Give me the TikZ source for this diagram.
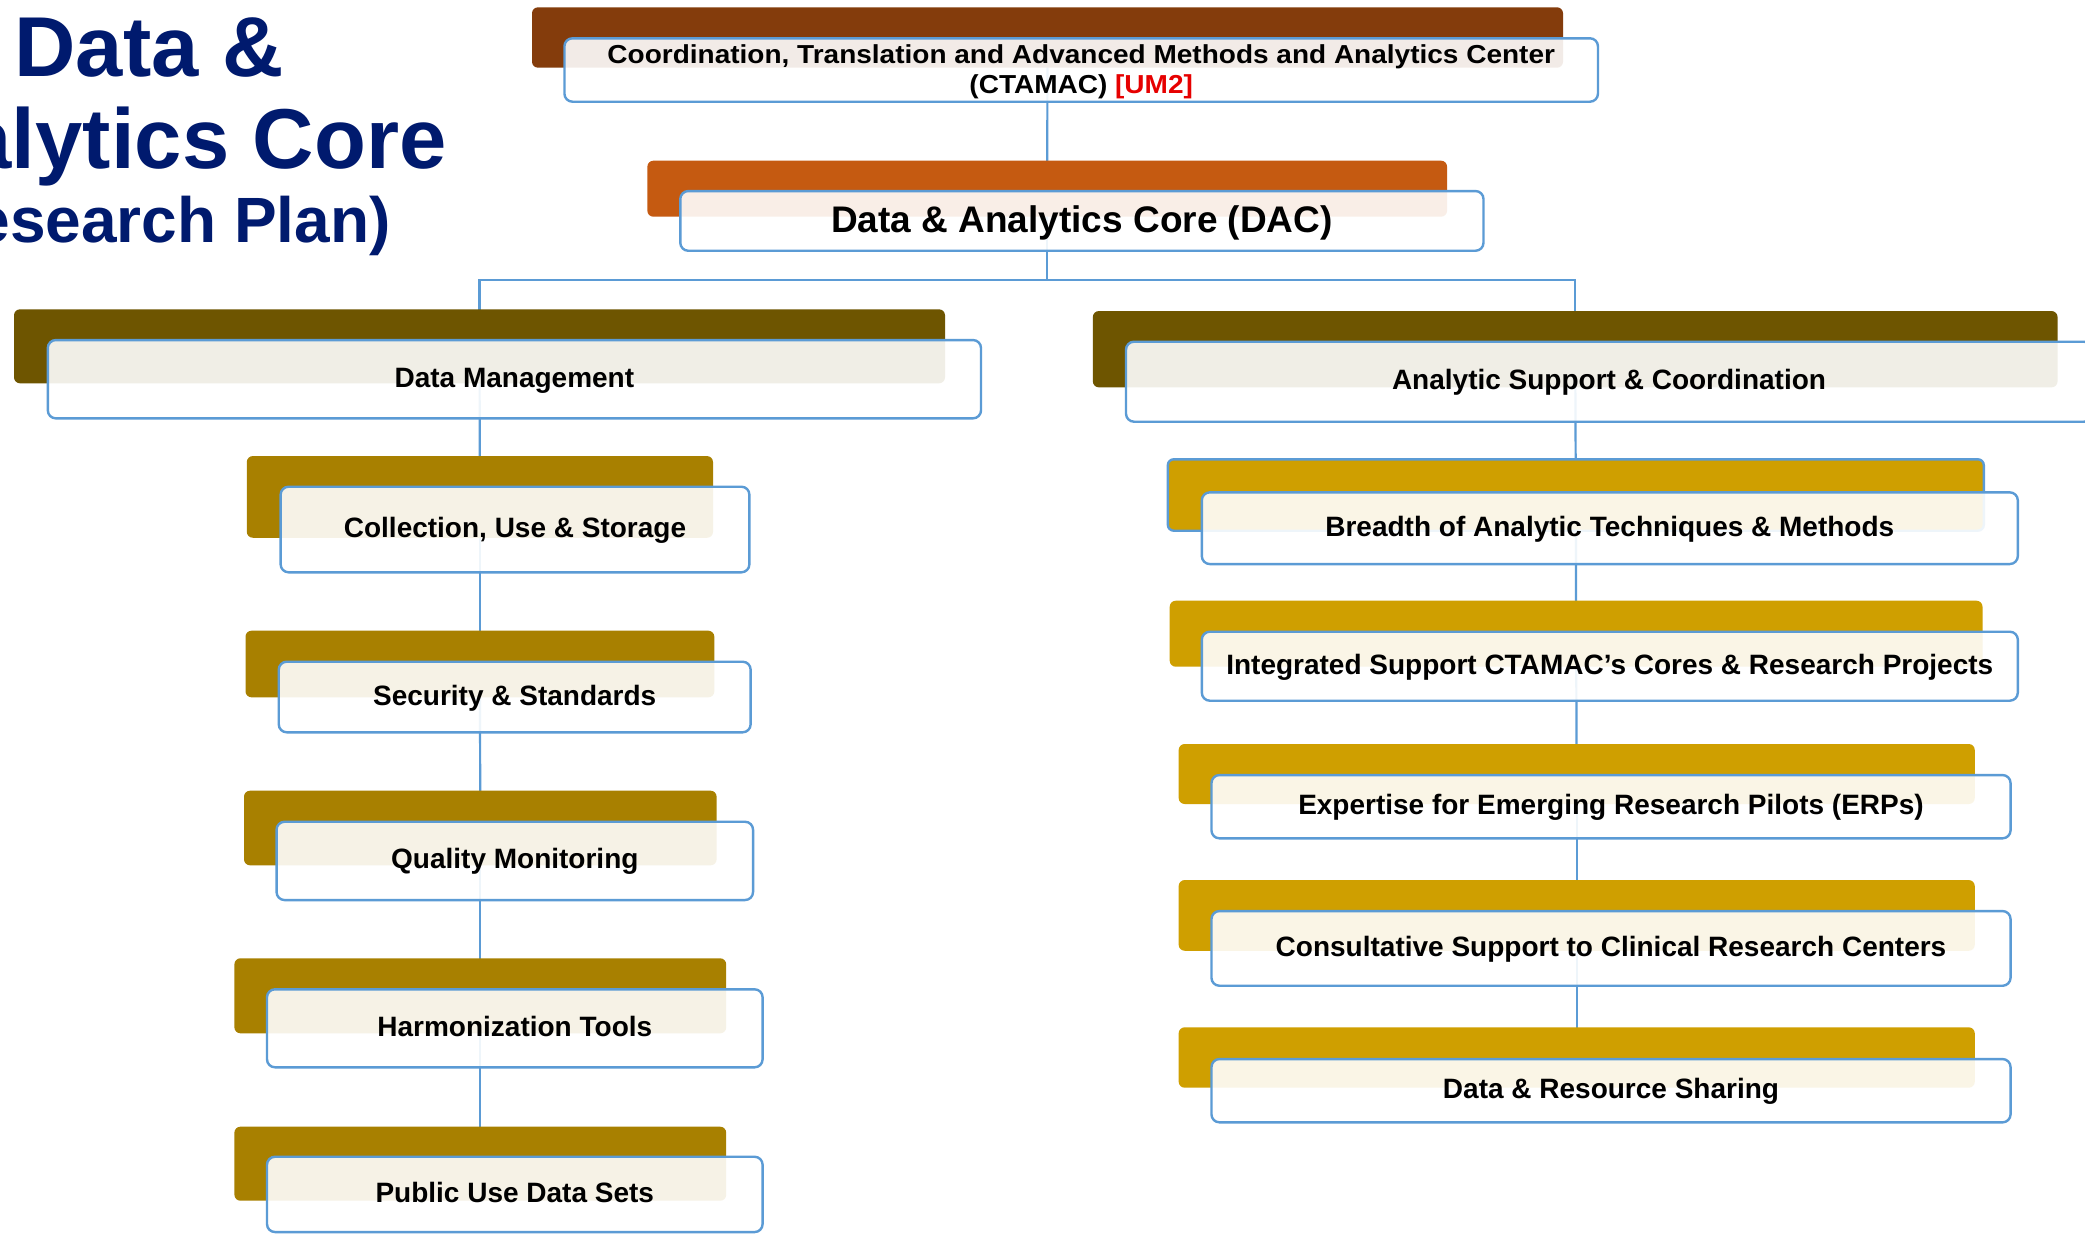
\documentclass[tikz,border=0pt]{standalone}
\usepackage{fontspec}
\setmainfont{Liberation Sans}
\usepackage{graphicx}
\pgfdeclarelayer{bg}
\pgfsetlayers{bg,main}
\definecolor{ctbrown}{RGB}{132,60,12}
\definecolor{dacorange}{RGB}{197,90,17}
\definecolor{lvtwo}{RGB}{110,85,0}
\definecolor{lvleft}{RGB}{168,128,0}
\definecolor{lvright}{RGB}{207,159,0}
\definecolor{boxblue}{RGB}{91,155,213}
\definecolor{linkblue}{RGB}{91,155,213}
\definecolor{navy}{RGB}{0,26,110}
\definecolor{umred}{RGB}{230,0,0}
\begin{document}
\begin{tikzpicture}[x=1pt,y=-1pt,
  barbox/.style={rounded corners=6pt, inner sep=0pt, outer sep=0pt},
  frontbox/.style={draw=boxblue, line width=2.4pt, rounded corners=8pt, fill=white,
    fill opacity=0.9, draw opacity=1, text opacity=1, inner sep=0pt, outer sep=0pt,
    font=\fontsize{28}{34}\selectfont\bfseries, text height=20pt, text depth=4pt},
  link/.style={draw=linkblue, line width=2.2pt},
  titletext/.style={text=navy, inner sep=0pt, anchor=base},
  ctline/.style={inner sep=0pt, anchor=base, font=\fontsize{26}{30}\selectfont\bfseries}
]
\useasboundingbox (0,0) rectangle (2085,1234);
\begin{pgfonlayer}{bg}
\fill[white] (0,0) rectangle (2085,1234);
\end{pgfonlayer}
\clip (0,0) rectangle (2085,1234);

% title
\node[titletext, font=\fontsize{85}{100}\selectfont\bfseries] (t1) at (149,76) {Data \&};
\node[titletext, font=\fontsize{85}{100}\selectfont\bfseries] (t2) at (149,168.3) {Analytics Core};
\node[titletext, font=\fontsize{64}{76}\selectfont\bfseries] (t3) at (149,242.7) {(Research Plan)};

% CTAMAC
\node[barbox, fill=ctbrown, minimum width=1031pt, minimum height=60.4pt] (ctbar) at (1047.5,37.5) {};
\node[frontbox, minimum width=1033.5pt, minimum height=63.4pt] (ctbox) at (1081.2,70) {};
\node[ctline] (ctl1) at (1081.2,63.5) {\scalebox{1.077}[1]{Coordination, Translation and Advanced Methods and Analytics Center}};
\node[ctline] (ctl2) at (1081.2,93.3) {\scalebox{1.077}[1]{(CTAMAC) \textcolor{umred}{[UM2]}}};

% DAC
\node[barbox, fill=dacorange, minimum width=799.7pt, minimum height=56pt] (dacbar) at (1047.2,188.7) {};
\node[frontbox, minimum width=803.2pt, minimum height=59.7pt,
  font=\fontsize{37}{44}\selectfont\bfseries, text height=26.6pt, text depth=3.8pt] (dacbox) at (1081.9,220.9) {Data \& Analytics Core (DAC)};

% level 2
\node[barbox, fill=lvtwo, minimum width=931pt, minimum height=74pt] (dmbar) at (479.5,346.3) {};
\node[frontbox, minimum width=933.2pt, minimum height=78.3pt] (dmbox) at (514.4,379.2) {Data Management};
\node[barbox, fill=lvtwo, minimum width=964.7pt, minimum height=76.3pt] (ascbar) at (1575.2,349.2) {};
\node[frontbox, minimum width=966pt, minimum height=80pt] (ascbox) at (1609,381.7) {Analytic Support \& Coordination};

% left level 3
\node[barbox, fill=lvleft, minimum width=466.2pt, minimum height=81.7pt] (collbar) at (479.9,496.9) {};
\node[frontbox, minimum width=468.8pt, minimum height=85.6pt] (collbox) at (515,529.5) {Collection, Use \& Storage};
\node[barbox, fill=lvleft, minimum width=468.8pt, minimum height=66.6pt] (secbar) at (479.9,664) {};
\node[frontbox, minimum width=471.9pt, minimum height=70.6pt] (secbox) at (514.7,697) {Security \& Standards};
\node[barbox, fill=lvleft, minimum width=472.6pt, minimum height=74.6pt] (qualbar) at (480.3,828) {};
\node[frontbox, minimum width=476.5pt, minimum height=78.3pt] (qualbox) at (514.8,860.9) {Quality Monitoring};
\node[barbox, fill=lvleft, minimum width=491.8pt, minimum height=75pt] (harmbar) at (480.3,995.8) {};
\node[frontbox, minimum width=495.6pt, minimum height=78pt] (harmbox) at (514.8,1028.3) {Harmonization Tools};
\node[barbox, fill=lvleft, minimum width=491.8pt, minimum height=74pt] (pubbar) at (480.3,1163.7) {};
\node[frontbox, minimum width=495.6pt, minimum height=75.3pt] (pubbox) at (514.8,1194.4) {Public Use Data Sets};

% right level 3
\node[barbox, fill=lvright, draw=boxblue, line width=2.4pt, minimum width=816pt, minimum height=71.4pt] (brbar) at (1575.8,495) {};
\node[frontbox, minimum width=816pt, minimum height=71.7pt] (brbox) at (1609.8,528.2) {Breadth of Analytic Techniques \& Methods};
\node[barbox, fill=lvright, minimum width=812.8pt, minimum height=66pt] (intbar) at (1576.1,633.7) {};
\node[frontbox, minimum width=816pt, minimum height=69pt] (intbox) at (1609.8,666.2) {Integrated Support CTAMAC’s Cores \& Research Projects};
\node[barbox, fill=lvright, minimum width=796.1pt, minimum height=60pt] (erpbar) at (1576.7,774) {};
\node[frontbox, minimum width=799.1pt, minimum height=63.3pt] (erpbox) at (1611,806.7) {Expertise for Emerging Research Pilots (ERPs)};
\node[barbox, fill=lvright, minimum width=796.1pt, minimum height=70.7pt] (consbar) at (1576.7,915.4) {};
\node[frontbox, minimum width=799.1pt, minimum height=74.7pt] (consbox) at (1611,948.4) {Consultative Support to Clinical Research Centers};
\node[barbox, fill=lvright, minimum width=796.1pt, minimum height=60.4pt] (drsbar) at (1576.7,1057.5) {};
\node[frontbox, minimum width=799.1pt, minimum height=63.3pt] (drsbox) at (1611,1090.7) {Data \& Resource Sharing};

% connectors
\begin{pgfonlayer}{bg}
\draw[link] (ctbar.center) -- (dacbar.center);
\coordinate (split) at (1047.2,280);
\draw[link] (dacbar.center) -- (split) -| (dmbar.center);
\draw[link] (split) -| (ascbar.center);
\draw[link] (dmbar.center) -- (collbar.center);
\draw[link] (collbar.center) -- (secbar.center);
\draw[link] (secbar.center) -- (qualbar.center);
\draw[link] (qualbar.center) -- (harmbar.center);
\draw[link] (harmbar.center) -- (pubbar.center);
\draw[link] (ascbar.center) -- (brbar.center);
\draw[link] (brbar.center) -- (intbar.center);
\draw[link] (intbar.center) -- (erpbar.center);
\draw[link] (erpbar.center) -- (consbar.center);
\draw[link] (consbar.center) -- (drsbar.center);
\end{pgfonlayer}
\end{tikzpicture}
\end{document}
